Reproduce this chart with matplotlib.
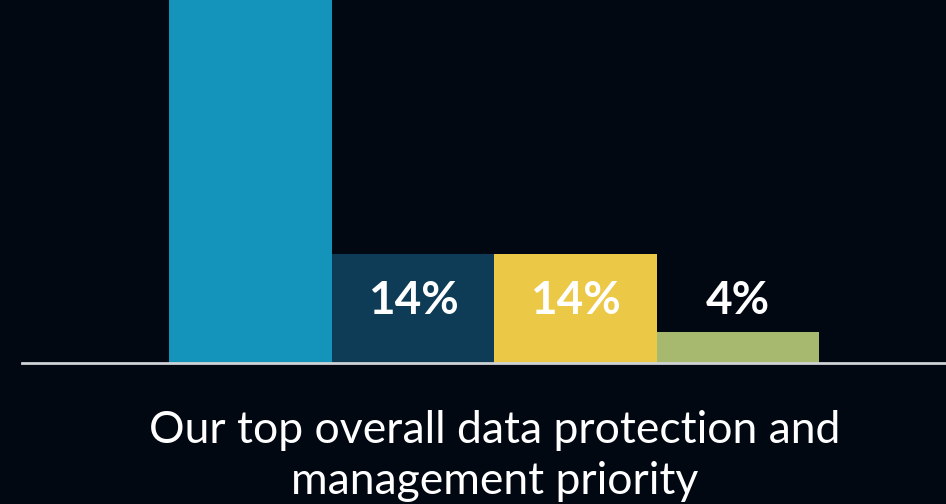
import numpy as np
import matplotlib
matplotlib.use("Agg")
import matplotlib.pyplot as plt
import matplotlib.transforms as mtransforms

# ---------------- data ----------------
CATEGORIES = ["A", "B", "C", "D"]
VALUES = [68, 14, 14, 4]
LABELS = ["68%", "14%", "14%", "4%"]
COLORS = ["#1594bb", "#0e3b55", "#ebc845", "#a6b96f"]
TITLE = "Our top overall data protection and\nmanagement priority"
# --------------------------------------

BG = "#020812"
FONT = "Lato"
YMAX = 46.8

fig = plt.figure(figsize=(9.46, 5.04), dpi=100, facecolor=BG)
W, H = 946, 504
ax = fig.add_axes([22 / W, (H - 362.5) / H, (W - 22) / W, 362.5 / H])
ax.set_facecolor(BG)

x = np.arange(len(VALUES))
ax.bar(x, VALUES, width=1.0, color=COLORS, linewidth=0, zorder=2)

ax.set_xlim(-1.406, 4.28)
ax.set_ylim(0, YMAX)

for xi, v, lab in zip(x, VALUES, LABELS):
    if v >= 10:
        y = v - 6
    else:
        y = v + 4
    if y > YMAX:
        # label sits above the visible area
        continue
    ax.text(xi, y, lab, ha="center", va="center", color="white",
            fontsize=33, fontweight="bold", family=FONT, zorder=3)

for s in ["top", "right", "left"]:
    ax.spines[s].set_visible(False)
ax.spines["bottom"].set_color("#cfd3d6")
ax.spines["bottom"].set_linewidth(2)
ax.spines["bottom"].set_zorder(4)
ax.set_xticks([])
ax.set_yticks([])

trans = mtransforms.blended_transform_factory(ax.transData, fig.transFigure)
ax.text(1.5, (H - 456) / H, TITLE, transform=trans, ha="center", va="center",
        color="white", fontsize=32, family=FONT, linespacing=1.32)

fig.savefig("out.png", dpi=100, facecolor=BG)
